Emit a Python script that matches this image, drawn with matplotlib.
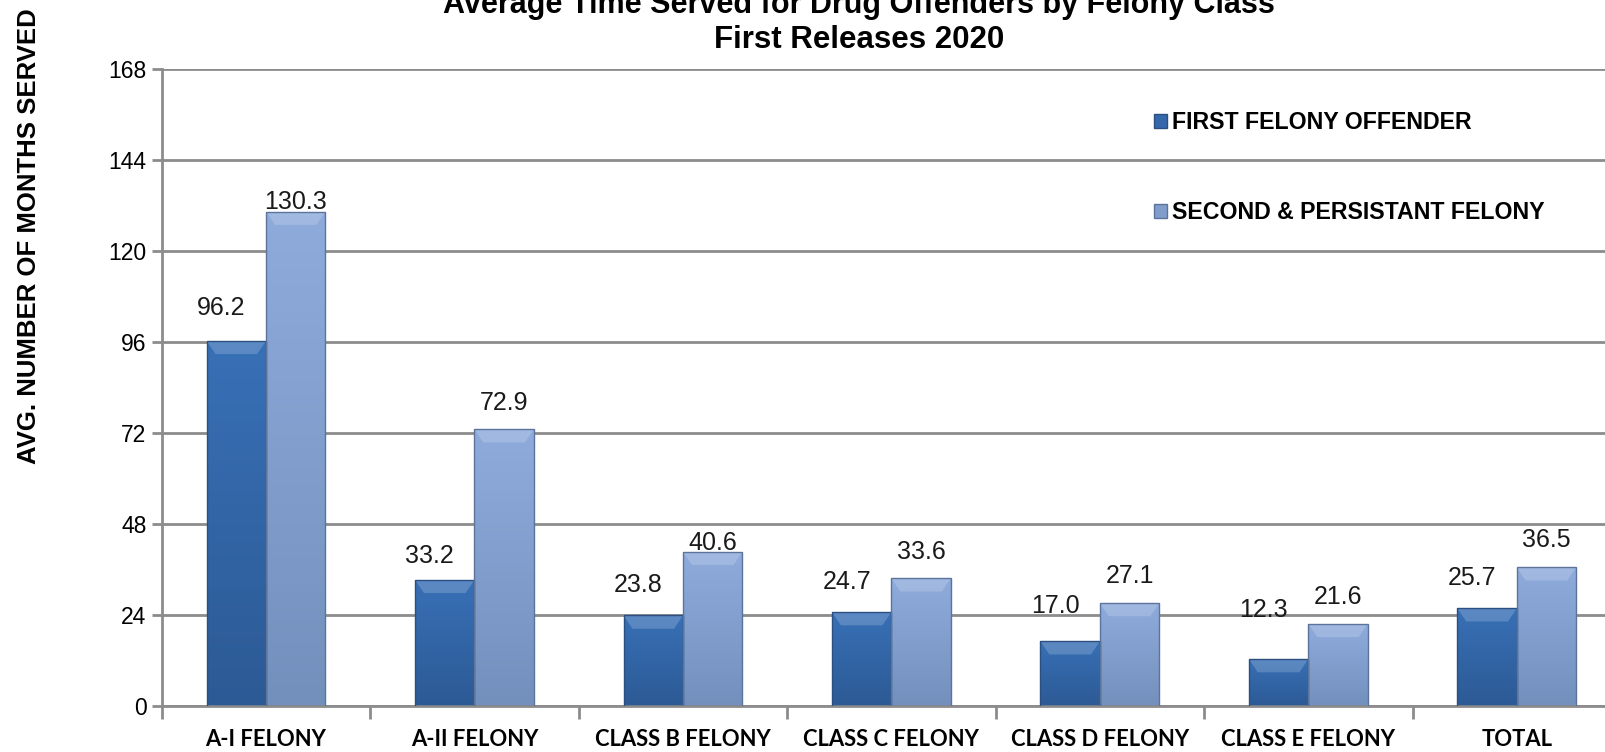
import numpy as np
import matplotlib.pyplot as plt
from matplotlib.colors import LinearSegmentedColormap
from matplotlib.patches import Patch

categories = ['A-I FELONY', 'A-II FELONY', 'CLASS B FELONY', 'CLASS C FELONY',
              'CLASS D FELONY', 'CLASS E FELONY', 'TOTAL']
first_felony = [96.2, 33.2, 23.8, 24.7, 17.0, 12.3, 25.7]
second_felony = [130.3, 72.9, 40.6, 33.6, 27.1, 21.6, 36.5]
series_names = ['FIRST FELONY OFFENDER', 'SECOND & PERSISTANT FELONY']
yticks = [0, 24, 48, 72, 96, 120, 144, 168]

# label centre offsets above bar top (pixels), as placed in the original
lbl_off1 = [33, 24, 30, 30, 35, 49, 30]
lbl_off2 = [10, 26, 9, 26, 27, 27, 27]

plt.rcParams['font.family'] = ['Liberation Sans', 'DejaVu Sans']

W, H = 1606, 752
fig = plt.figure(figsize=(W / 100, H / 100), dpi=100)
ax = fig.add_axes([161.8 / W, 46.3 / H, (1621 - 161.8) / W, (683.4 - 46.3) / H])

x = np.arange(len(categories))
bw = 0.285

dark = LinearSegmentedColormap.from_list('d', ['#2c5a95', '#3870b6'])
light = LinearSegmentedColormap.from_list('l', ['#7390bd', '#8eabdc'])


def grad_bars(xs, vals, cmap, edge):
    bars = ax.bar(xs, vals, bw, color='none', edgecolor=edge, linewidth=1.0, zorder=3)
    grad = np.linspace(0, 1, 100).reshape(-1, 1)
    for b in bars:
        x0, y0 = b.get_x(), b.get_y()
        w, h = b.get_width(), b.get_height()
        im = ax.imshow(grad, cmap=cmap, origin='lower', aspect='auto',
                       extent=[x0, x0 + w, y0, y0 + h], zorder=2)
        im.set_clip_path(b)
        # highlight band at top of the bar
        ax.fill([x0, x0 + w, x0 + w * 0.85, x0 + w * 0.15],
                [y0 + h, y0 + h, y0 + h - 3.5, y0 + h - 3.5],
                color='white', alpha=0.18, lw=0, zorder=2.5)
    return bars


grad_bars(x - bw / 2, first_felony, dark, '#2a4f80')
grad_bars(x + bw / 2, second_felony, light, '#5c739a')

for i in range(len(categories)):
    ax.annotate(f'{first_felony[i]:.1f}', (x[i] - bw / 2, first_felony[i]),
                xytext=(-15 * 0.72, lbl_off1[i] * 0.72), textcoords='offset points',
                ha='center', va='center', fontsize=18, color='#1a1a1a')
    ax.annotate(f'{second_felony[i]:.1f}', (x[i] + bw / 2, second_felony[i]),
                xytext=(0, lbl_off2[i] * 0.72), textcoords='offset points',
                ha='center', va='center', fontsize=18, color='#1a1a1a')

ax.set_xlim(-0.5, len(categories) - 0.5)
ax.set_ylim(0, 168)
ax.set_yticks(yticks)
ax.set_yticklabels([str(t) for t in yticks], fontsize=16.5)
ax.yaxis.grid(True, color='#8c8c8c', linewidth=2)
ax.set_axisbelow(True)

ax.set_xticks(np.arange(len(categories) + 1) - 0.5)
ax.set_xticklabels([])
ax.set_xticks(x, minor=True)
ax.set_xticklabels(categories, minor=True, fontsize=15.8, fontweight='bold',
                   family=['Lato', 'DejaVu Sans'])
ax.tick_params(axis='x', which='minor', length=0, pad=17)
ax.tick_params(axis='x', which='major', length=9, width=2, color='#8c8c8c')
ax.tick_params(axis='y', length=7, width=2, color='#8c8c8c', pad=4)

for s in ['top', 'right']:
    ax.spines[s].set_visible(False)
for s in ['left', 'bottom']:
    ax.spines[s].set_color('#8c8c8c')
    ax.spines[s].set_linewidth(2)

fig.text(859 / W, 1 - 5 / H, 'Average Time Served for Drug Offenders by Felony Class',
         ha='center', va='center', fontsize=22, fontweight='bold')
fig.text(859 / W, 1 - 40 / H, 'First Releases 2020',
         ha='center', va='center', fontsize=22.5, fontweight='bold')
fig.text(29 / W, 1 - 464 / H, 'AVG. NUMBER OF MONTHS SERVED', rotation=90,
         ha='center', va='bottom', fontsize=18.5, fontweight='bold')

handles = [Patch(facecolor='#3468ab', edgecolor='#2a4f80'),
           Patch(facecolor='#819dcc', edgecolor='#5c739a')]
leg = fig.legend(handles, series_names, loc='upper left',
                 bbox_to_anchor=(1133 / W, 1 - 90 / H), frameon=False,
                 prop={'weight': 'bold', 'size': 16.7},
                 labelspacing=2.9, handlelength=0.55, handleheight=0.55,
                 handletextpad=0.25)

fig.savefig('out.png', dpi=100)
